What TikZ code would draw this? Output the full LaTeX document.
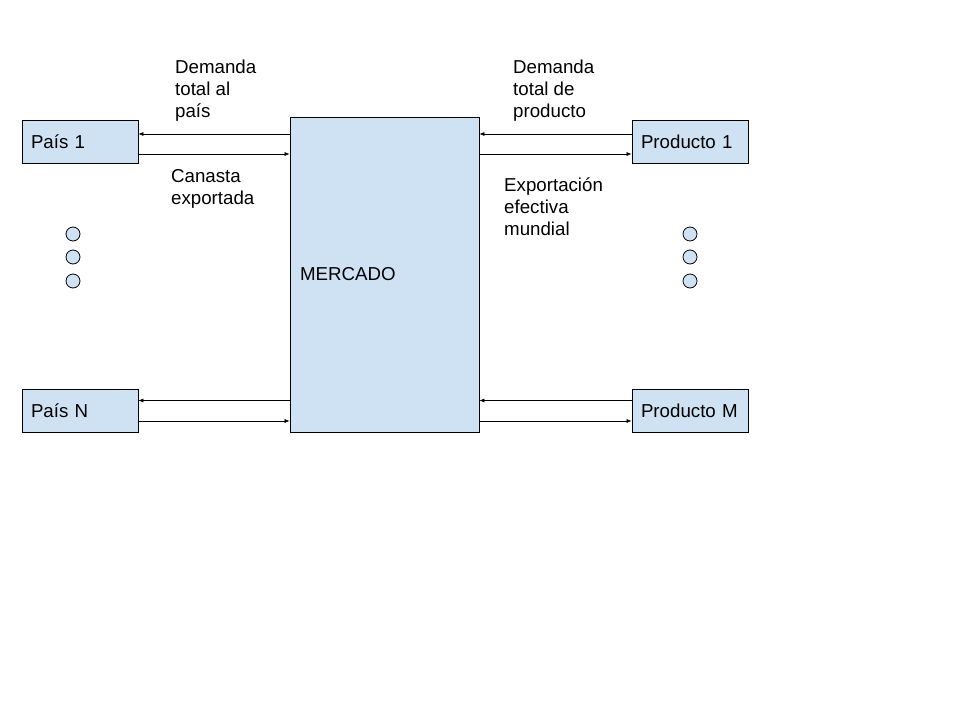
\documentclass[tikz,border=0pt]{standalone}
\usepackage{fontspec}
\setmainfont{Liberation Sans}
\usetikzlibrary{arrows.meta}
\definecolor{boxblue}{HTML}{CFE2F3}
\begin{document}
\begin{tikzpicture}[x=1pt,y=-1pt,
  font=\fontsize{18.7}{22}\selectfont,
  box/.style={draw=black,fill=boxblue,line width=0.8pt,minimum width=116pt,minimum height=43pt,
    text width=98pt,inner xsep=9pt,inner ysep=0pt,align=left},
  big/.style={draw=black,fill=boxblue,line width=0.8pt,minimum width=189pt,minimum height=315pt,
    text width=169pt,inner xsep=10pt,inner ysep=0pt,align=left},
  lbl/.style={anchor=north west,inner sep=0pt,align=left},
  arr/.style={-{Latex[length=5pt,width=4pt]},line width=0.6pt},
  dot/.style={circle,draw=black,fill=boxblue,line width=0.8pt,minimum size=14pt,inner sep=0pt}]
\useasboundingbox (0,0) rectangle (960,720);
\node[box] (p1) at (80,141.5) {País 1};
\node[box] (pn) at (80,410.5) {País N};
\node[box] (q1) at (690,141.5) {Producto 1};
\node[box] (qm) at (690,410.5) {Producto M};
\node[big] (m) at (384.5,274.5) {MERCADO};
% connectors (upper one: 7.5 above centre line, lower one: 12.5 below)
\draw[arr] ([yshift=7.5pt]m.west |- p1.east) -- ([yshift=7.5pt]p1.east);
\draw[arr] ([yshift=-12.5pt]p1.east) -- ([yshift=-12.5pt]m.west |- p1.east);
\draw[arr] ([yshift=7.5pt]q1.west) -- ([yshift=7.5pt]m.east |- q1.west);
\draw[arr] ([yshift=-12.5pt]m.east |- q1.west) -- ([yshift=-12.5pt]q1.west);
\draw[arr] ([yshift=10pt]m.west |- pn.east) -- ([yshift=10pt]pn.east);
\draw[arr] ([yshift=-10.5pt]pn.east) -- ([yshift=-10.5pt]m.west |- pn.east);
\draw[arr] ([yshift=10pt]qm.west) -- ([yshift=10pt]m.east |- qm.west);
\draw[arr] ([yshift=-10.5pt]m.east |- qm.west) -- ([yshift=-10.5pt]qm.west);
% dots
\node[dot] (d1) at (73,234) {};
\node[dot] (d2) at (73,257) {};
\node[dot] (d3) at (73,281) {};
\node[dot] (e1) at (690,234) {};
\node[dot] (e2) at (690,257) {};
\node[dot] (e3) at (690,281) {};
% labels
\node[lbl] (l1) at (175,60) {Demanda\\total al\\país};
\node[lbl] (l2) at (171,169) {Canasta\\exportada};
\node[lbl] (l3) at (513,60) {Demanda\\total de\\producto};
\node[lbl] (l4) at (504,178) {Exportación\\efectiva\\mundial};
\end{tikzpicture}
\end{document}
